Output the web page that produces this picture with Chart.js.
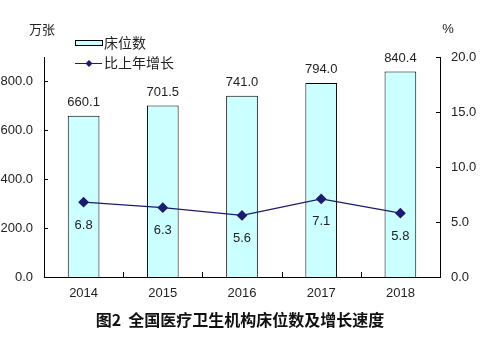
<!DOCTYPE html>
<html>
<head>
<meta charset="utf-8">
<script src="https://cdn.jsdelivr.net/npm/chart.js"></script>
<style>
  html, body { margin: 0; padding: 0; background: #fff; }
  #wrap { position: relative; width: 492px; height: 337px; }
</style>
</head>
<body>
<div id="wrap"><canvas id="c" width="492" height="337"></canvas></div>
<script>
// chart values
var years = ['2014', '2015', '2016', '2017', '2018'];
var beds = [660.1, 701.5, 741.0, 794.0, 840.4];       // 万张
var growth = [6.8, 6.3, 5.6, 7.1, 5.8];              // %
var leftTicks = [0, 200, 400, 600, 800];
var rightTicks = [0, 5, 10, 15, 20];
var bedsLabel = '床位数';
var growthLabel = '比上年增长';
var titleText = '图2  全国医疗卫生机构床位数及增长速度';

var latin = '"Liberation Sans", Arial, sans-serif';
var cjk = '"Noto Sans CJK SC", sans-serif';
var textColor = '#222';
var lineColor = '#1c1c6e';

// value labels, inward ticks, units, legend and caption
var extras = {
    id: 'extras',
    afterDatasetsDraw: function(chart) {
        var ctx = chart.ctx;
        var area = chart.chartArea;
        ctx.save();
        ctx.fillStyle = textColor;
        ctx.font = '13px ' + latin;
        ctx.textAlign = 'center';
        ctx.textBaseline = 'middle';
        chart.getDatasetMeta(0).data.forEach(function(bar, i) {
            ctx.fillText(beds[i].toFixed(1), bar.x, bar.y - 13);
        });
        chart.getDatasetMeta(1).data.forEach(function(pt, i) {
            ctx.fillText(growth[i].toFixed(1), pt.x, pt.y + 23);
        });

        // inward tick marks
        ctx.strokeStyle = '#000';
        ctx.lineWidth = 1;
        ctx.beginPath();
        var y = chart.scales.y, y1 = chart.scales.y1;
        leftTicks.forEach(function(v) {
            var py = Math.round(y.getPixelForValue(v)) + 0.5;
            ctx.moveTo(area.left, py); ctx.lineTo(area.left + 4, py);
        });
        rightTicks.forEach(function(v) {
            var py = Math.round(y1.getPixelForValue(v)) + 0.5;
            ctx.moveTo(area.right - 4, py); ctx.lineTo(area.right, py);
        });
        var step = (area.right - area.left) / years.length;
        for (var k = 1; k < years.length; k++) {
            var px = Math.round(area.left + step * k) + 0.5;
            ctx.moveTo(px, area.bottom); ctx.lineTo(px, area.bottom - 5);
        }
        ctx.stroke();

        // units
        ctx.font = '13px ' + cjk;
        ctx.fillText('万张', 42, 29);
        ctx.font = '13px ' + latin;
        ctx.fillText('%', 448, 29);

        // legend
        ctx.fillStyle = '#ccffff';
        ctx.fillRect(75.5, 40.5, 27, 5);
        ctx.strokeStyle = '#000';
        ctx.strokeRect(75.5, 40.5, 27, 5);
        ctx.strokeStyle = lineColor;
        ctx.beginPath();
        ctx.moveTo(75, 63.5); ctx.lineTo(102, 63.5);
        ctx.stroke();
        ctx.fillStyle = lineColor;
        ctx.beginPath();
        ctx.moveTo(89, 60); ctx.lineTo(92.5, 63.5); ctx.lineTo(89, 67); ctx.lineTo(85.5, 63.5);
        ctx.closePath();
        ctx.fill();
        ctx.fillStyle = textColor;
        ctx.textAlign = 'left';
        ctx.font = '14px ' + cjk;
        ctx.fillText(bedsLabel, 104, 43);
        ctx.fillText(growthLabel, 104, 63);

        // caption
        ctx.textAlign = 'center';
        ctx.fillStyle = '#111';
        ctx.font = 'bold 16px ' + cjk;
        ctx.fillText(titleText, 240, 320);
        ctx.restore();
    }
};

var noGrid = { display: false, drawTicks: false };

new Chart(document.getElementById('c'), {
    data: {
        labels: years,
        datasets: [{
            type: 'bar',
            label: bedsLabel,
            data: beds,
            yAxisID: 'y',
            backgroundColor: '#ccffff',
            borderColor: '#000',
            borderWidth: 1,
            barPercentage: 0.4,
            categoryPercentage: 1,
            order: 2
        }, {
            type: 'line',
            label: growthLabel,
            data: growth,
            yAxisID: 'y1',
            borderColor: lineColor,
            backgroundColor: lineColor,
            borderWidth: 1.3,
            pointStyle: 'rectRot',
            pointRadius: 4.5,
            tension: 0,
            order: 1
        }]
    },
    options: {
        responsive: false,
        animation: false,
        devicePixelRatio: 1,
        layout: { padding: { top: 57, left: 0, right: 0, bottom: 0 } },
        plugins: {
            legend: { display: false },
            tooltip: { enabled: false }
        },
        scales: {
            x: {
                offset: true,
                grid: noGrid,
                border: { display: true, color: '#000', width: 1 },
                ticks: { color: textColor, font: { family: latin, size: 13 }, padding: 9, maxRotation: 0 },
                afterFit: function(s) { s.height = 60; }
            },
            y: {
                position: 'left',
                min: 0, max: 900,
                grid: noGrid,
                border: { display: true, color: '#000', width: 1 },
                afterBuildTicks: function(s) { s.ticks = leftTicks.map(function(v) { return { value: v }; }); },
                ticks: {
                    color: textColor, font: { family: latin, size: 13 }, padding: 11,
                    callback: function(v) { return v.toFixed(1); }
                },
                afterFit: function(s) { s.width = 44; }
            },
            y1: {
                position: 'right',
                min: 0, max: 20,
                grid: noGrid,
                border: { display: true, color: '#000', width: 1 },
                afterBuildTicks: function(s) { s.ticks = rightTicks.map(function(v) { return { value: v }; }); },
                ticks: {
                    color: textColor, font: { family: latin, size: 13 }, padding: 11,
                    callback: function(v) { return v.toFixed(1); }
                },
                afterFit: function(s) { s.width = 52; }
            }
        }
    },
    plugins: [extras]
});
</script>
</body>
</html>
